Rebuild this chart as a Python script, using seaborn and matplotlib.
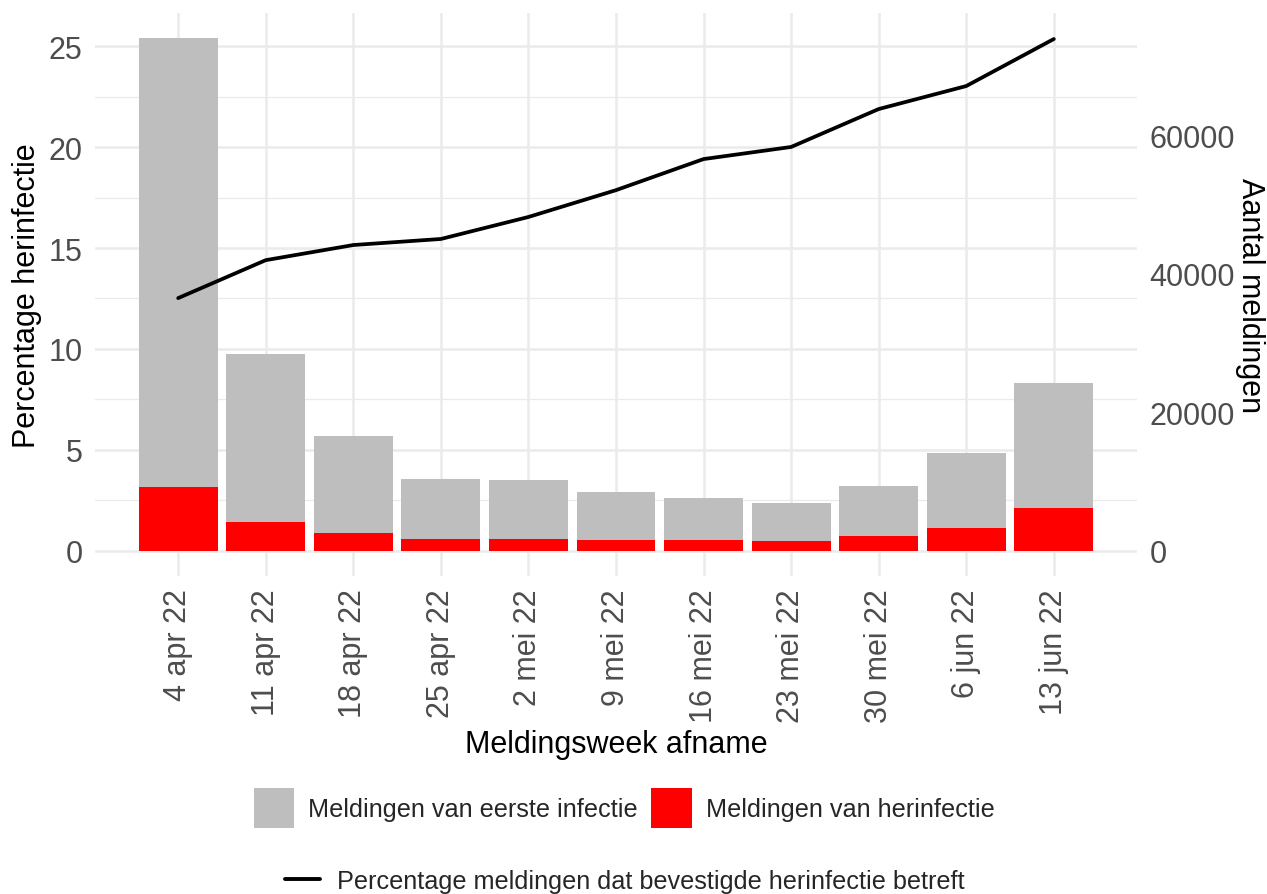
import matplotlib
matplotlib.use("Agg")
import matplotlib.pyplot as plt
import seaborn as sns
from matplotlib.patches import Patch
from matplotlib.lines import Line2D
from matplotlib.ticker import MultipleLocator, FixedLocator

# Data
weeks = ["4 apr 22", "11 apr 22", "18 apr 22", "25 apr 22", "2 mei 22", "9 mei 22",
         "16 mei 22", "23 mei 22", "30 mei 22", "6 jun 22", "13 jun 22"]
herinfectie = [9200, 4140, 2560, 1690, 1690, 1545, 1545, 1400, 2120, 3280, 6170]
eerste_infectie = [64840, 24260, 13960, 8660, 8520, 6930, 6065, 5490, 7220, 10830, 18050]
percentage = [12.52, 14.40, 15.15, 15.45, 16.54, 17.87, 19.41, 20.01, 21.89, 23.03, 25.36]

totaal = [h + e for h, e in zip(herinfectie, eerste_infectie)]
schaal = 2914  # factor tussen linker en rechter as

sns.set_style("white")
plt.rcParams["font.family"] = ["Liberation Sans", "DejaVu Sans"]

fig = plt.figure(figsize=(12.67, 8.95), dpi=100)
ax = fig.add_axes([95 / 1267, 1 - 577 / 895, (1137 - 95) / 1267, (577 - 14) / 895])
ax2 = ax.twinx()
ax3 = ax.twinx()

# Staven (rechter as)
sns.barplot(x=weeks, y=totaal, color="#BEBEBE", width=0.9, saturation=1,
            errorbar=None, linewidth=0, ax=ax2)
sns.barplot(x=weeks, y=herinfectie, color="#FF0000", width=0.9, saturation=1,
            errorbar=None, linewidth=0, ax=ax2)

# Lijn (linker as)
sns.lineplot(x=list(range(len(weeks))), y=percentage, color="black", linewidth=2.7,
             sort=False, ax=ax3)

ylim = (-1.254, 26.65)
ax.set_ylim(ylim)
ax3.set_ylim(ylim)
ax2.set_ylim(ylim[0] * schaal, ylim[1] * schaal)
ax.set_xlim(-0.95, 10.95)

# Rasterlijnen
ax.yaxis.set_major_locator(MultipleLocator(5))
ax.yaxis.set_minor_locator(MultipleLocator(2.5))
ax.grid(which="major", color="#EBEBEB", linewidth=1.8)
ax.grid(which="minor", axis="y", color="#EBEBEB", linewidth=0.9)
ax.set_axisbelow(True)

ax.set_xticks(range(len(weeks)))
ax.set_xticklabels(weeks, rotation=90)
ax2.yaxis.set_major_locator(FixedLocator([0, 20000, 40000, 60000]))

for a in (ax, ax2, ax3):
    for s in a.spines.values():
        s.set_visible(False)
ax3.set_axis_off()
ax2.grid(False)

ax.tick_params(which="both", length=0, labelsize=22, labelcolor="#4D4D4D", pad=9)
ax2.tick_params(which="both", length=0, labelsize=22, labelcolor="#4D4D4D", pad=9)

ax.set_xlabel("Meldingsweek afname", fontsize=22, color="black", va="center")
ax.xaxis.set_label_coords(0.5, -0.2984)
ax.set_ylabel("Percentage herinfectie", fontsize=22, color="black", va="center")
ax.yaxis.set_label_coords(-0.0653, 0.5)
ax2.set_ylabel("Aantal meldingen", fontsize=22, color="black", rotation=270, va="center")
ax2.yaxis.set_label_coords(1.1084, 0.5)

# Legenda's
fill_handles = [Patch(facecolor="#BEBEBE", edgecolor="none"),
                Patch(facecolor="#FF0000", edgecolor="none")]
fig.legend(fill_handles, ["Meldingen van eerste infectie", "Meldingen van herinfectie"],
           loc="center", bbox_to_anchor=(0.4925, 1 - 809 / 895), ncol=2,
           frameon=False, fontsize=18.2, handlelength=1.6, handleheight=2.1,
           handletextpad=0.55, columnspacing=0.55, borderpad=0)
fig.legend([Line2D([0], [0], color="black", linewidth=2.8)],
           ["Percentage meldingen dat bevestigde herinfectie betreft"],
           loc="center", bbox_to_anchor=(0.493, 1 - 882 / 895), frameon=False,
           fontsize=18.2, handlelength=1.4, handletextpad=0.68, borderpad=0)

fig.savefig("out.png", dpi=100)
